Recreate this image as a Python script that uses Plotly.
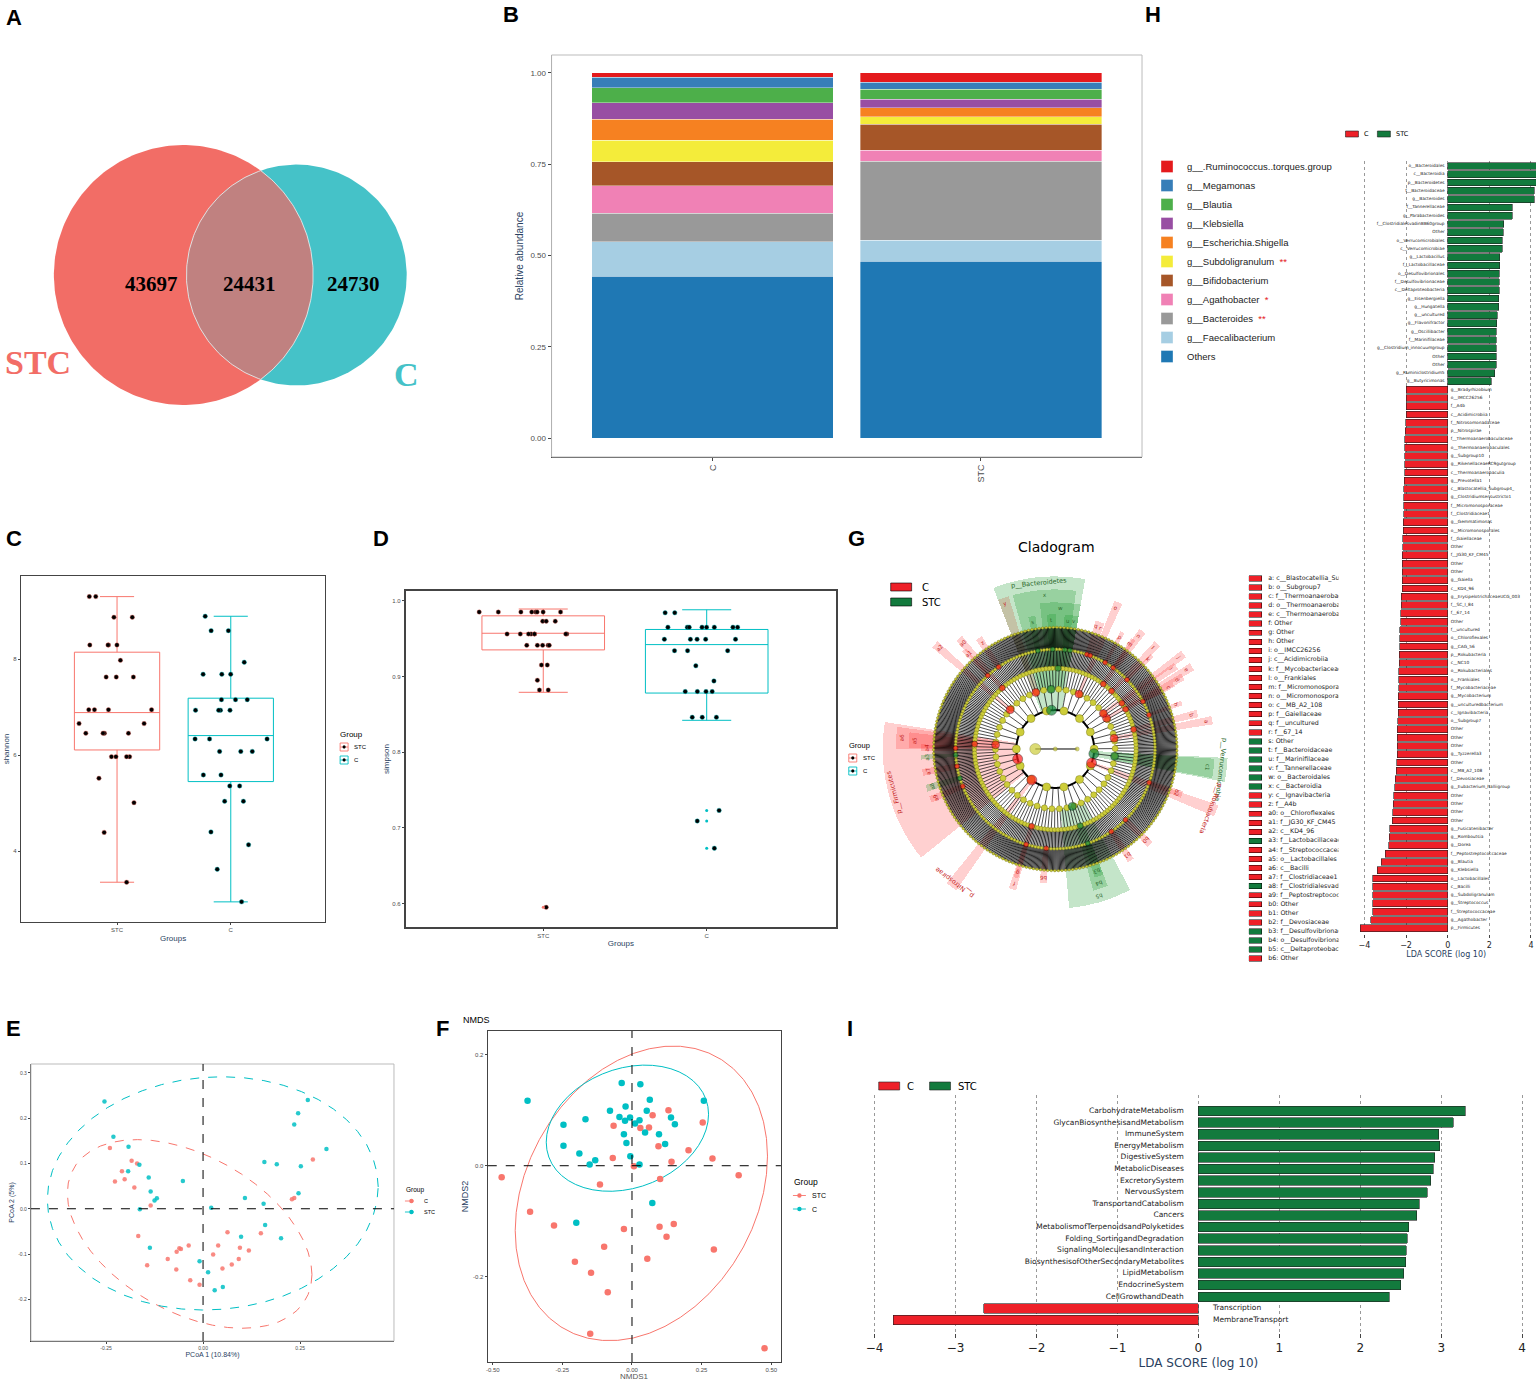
import numpy as np
import plotly.graph_objects as go

W, H = 1536, 1381

def dom_x(a, b):
    return [a / W, b / W]

def dom_y(top, bottom):
    return [1 - bottom / H, 1 - top / H]

def px(x):
    return x / W

def py(y):
    return 1 - y / H

SANS = "Liberation Sans, Arial, sans-serif"
SERIF = "Liberation Serif, Times New Roman, serif"
MPL = "DejaVu Sans, sans-serif"
GG_RED = "#F8766D"
GG_CYAN = "#00BFC4"
LDA_RED = "#EE2028"
LDA_GREEN = "#127A3D"

# ---------------- A: Venn ----------------
venn_names = ["STC", "C"]
venn_only_stc = 43697
venn_shared = 24431
venn_only_c = 24730

# ---------------- B: composition ----------------
taxa = ["g__.Ruminococcus..torques.group", "g__Megamonas", "g__Blautia", "g__Klebsiella",
        "g__Escherichia.Shigella", "g__Subdoligranulum", "g__Bifidobacterium",
        "g__Agathobacter", "g__Bacteroides", "g__Faecalibacterium", "Others"]
taxa_stars = ["", "", "", "", "", "**", "", "*", "**", "", ""]
taxa_colors = ["#E41A1C", "#377EB8", "#4DAF4A", "#984EA3", "#F68121", "#F4EC3A",
               "#A65628", "#F081B5", "#999999", "#A6CEE3", "#1F78B4"]
abund_groups = ["C", "STC"]
abund_c = [0.012, 0.029, 0.041, 0.045, 0.058, 0.058, 0.066, 0.075, 0.079, 0.094, 0.443]
abund_stc = [0.026, 0.019, 0.027, 0.024, 0.024, 0.020, 0.072, 0.030, 0.217, 0.057, 0.484]

# ---------------- C: shannon ----------------
alpha_groups = ["STC", "C"]
shannon_stc = [9.31, 9.31, 8.88, 8.88, 8.30, 8.30, 8.30, 8.30, 7.98, 7.63, 7.63, 7.63, 6.95, 6.95,
               6.95, 6.95, 6.66, 6.66, 6.46, 6.46, 6.46, 6.46, 5.97, 5.97, 5.97, 5.97, 5.52, 5.01,
               4.39, 3.35]
shannon_c = [8.90, 8.60, 8.60, 7.94, 7.69, 7.69, 7.69, 7.16, 7.16, 7.16, 6.94, 6.94, 6.94, 6.94,
             6.34, 6.34, 6.34, 6.08, 6.08, 6.08, 5.59, 5.59, 5.36, 5.36, 5.04, 5.04, 4.40, 4.13,
             3.62, 2.94]
shannon_box_stc = [3.35, 6.11, 6.89, 8.15, 9.31]   # lower, q1, median, q3, upper
shannon_box_c = [2.94, 5.45, 6.41, 7.19, 8.90]

# ---------------- D: simpson ----------------
simpson_stc = [0.985, 0.985, 0.985, 0.985, 0.985, 0.985, 0.985, 0.985, 0.973, 0.973, 0.973,
               0.956, 0.956, 0.956, 0.956, 0.956, 0.956, 0.956, 0.956, 0.941, 0.941, 0.941,
               0.941, 0.941, 0.915, 0.915, 0.895, 0.882, 0.882, 0.595]
simpson_c = [0.984, 0.984, 0.965, 0.965, 0.965, 0.965, 0.965, 0.965, 0.965, 0.965, 0.949, 0.949,
             0.949, 0.949, 0.949, 0.934, 0.934, 0.934, 0.914, 0.894, 0.880, 0.880, 0.880, 0.880,
             0.846, 0.846, 0.846, 0.723, 0.709, 0.673]
simpson_box_stc = [0.879, 0.935, 0.957, 0.980, 0.989]
simpson_box_c = [0.842, 0.878, 0.942, 0.962, 0.988]

# ---------------- E: PCoA ----------------
pcoa_c_x = [-0.240, -0.227, -0.209, -0.202, -0.184, -0.170, -0.177, -0.135, -0.167, -0.144,
            -0.091, -0.069, -0.068, -0.061, -0.057, -0.037, -0.033, -0.009, 0.026, 0.039,
            0.050, 0.063, 0.074, 0.092, 0.095, 0.118, 0.149, 0.229, 0.235, 0.283]
pcoa_c_y = [0.134, 0.060, 0.083, 0.065, 0.106, 0.100, 0.047, 0.007, -0.060, -0.125,
            -0.111, -0.134, -0.095, -0.087, -0.089, -0.081, -0.158, -0.168, -0.101, -0.081,
            -0.132, -0.052, -0.123, -0.111, -0.086, -0.092, -0.054, 0.021, 0.024, 0.109]
pcoa_stc_x = [-0.254, -0.231, -0.192, -0.193, -0.164, -0.140, -0.135, -0.119, -0.125, -0.163,
              -0.052, 0.021, -0.137, -0.009, 0.013, 0.030, 0.051, 0.098, 0.108, 0.156,
              0.158, 0.190, 0.160, 0.201, 0.252, 0.246, 0.235, 0.245, 0.270, 0.318]
pcoa_stc_y = [0.237, 0.159, 0.137, 0.083, 0.097, 0.069, 0.038, 0.023, 0.018, -0.001,
              0.061, 0.002, -0.086, -0.116, -0.140, -0.180, -0.173, -0.062, 0.024, 0.011,
              0.103, 0.098, -0.036, -0.065, 0.094, 0.034, 0.186, 0.211, 0.240, 0.132]

# ---------------- F: NMDS ----------------
nmds_stc_x = [-0.468, -0.366, -0.280, -0.205, -0.147, -0.150, -0.100, -0.087, -0.029, -0.115,
              -0.069, -0.066, 0.007, 0.030, 0.061, 0.074, 0.095, 0.131, 0.101, 0.142,
              0.099, 0.150, 0.124, 0.055, 0.203, 0.254, 0.289, 0.294, 0.383, 0.476]
nmds_stc_y = [-0.021, -0.083, -0.108, -0.173, -0.193, -0.303, -0.146, -0.228, -0.114, -0.034,
              0.014, 0.072, -0.001, 0.068, 0.069, 0.091, 0.035, 0.100, -0.024, 0.007,
              -0.110, -0.105, -0.128, -0.168, 0.028, 0.078, 0.013, -0.151, -0.017, -0.329]
nmds_c_x = [-0.375, -0.246, -0.246, -0.189, -0.167, -0.152, -0.132, -0.200, -0.079, -0.045,
            -0.037, -0.023, -0.025, -0.029, -0.020, -0.007, -0.006, 0.011, 0.027, 0.027,
            0.030, 0.047, 0.053, 0.064, 0.097, 0.119, 0.140, 0.154, 0.258, 0.073]
nmds_c_y = [0.117, 0.074, 0.036, 0.022, 0.084, 0.002, 0.010, -0.103, 0.099, 0.088,
            0.149, 0.107, 0.081, 0.057, 0.041, 0.087, 0.017, 0.076, 0.082, 0.002,
            0.147, 0.060, 0.099, 0.119, 0.057, 0.039, 0.087, 0.075, 0.117, -0.067]

# ---------------- H: LEfSe taxa ----------------
taxa_lda_names = [
    "o__Bacteroidales", "c__Bacteroidia", "p__Bacteroidetes", "f__Bacteroidaceae", "g__Bacteroides",
    "f__Tannerellaceae", "g__Parabacteroides", "f__ClostridialesvadinBB60group", "Other",
    "o__Verrucomicrobiales", "c__Verrucomicrobiae", "g__Lactobacillus", "f__Lactobacillaceae",
    "o__Desulfovibrionales", "f__Desulfovibrionaceae", "c__Deltaproteobacteria", "g__Eisenbergiella",
    "g__Hungatella", "g__uncultured", "g__Flavonifractor", "g__Oscillibacter", "f__Marinifilaceae",
    "g__Clostridium_innocuumgroup", "Other", "Other", "g__Ruminiclostridium5", "g__Butyricimonas",
    "g__Bradyrhizobium", "o__IMCC26256", "f__A4b", "c__Acidimicrobiia", "f__Nitrosomonadaceae",
    "p__Nitrospirae", "f__Thermoanaerobaculaceae", "o__Thermoanaerobaculales", "g__Subgroup10",
    "g__RikenellaceaeRC9gutgroup", "c__Thermoanaerobaculia", "g__Prevotella1",
    "c__Blastocatellia_Subgroup4_", "g__Clostridiumsensustricto1", "f__Micromonosporaceae",
    "f__Clostridiaceae1", "g__Gemmatimonas", "o__Micromonosporales", "f__Gaiellaceae", "Other",
    "f__JG30_KF_CM45", "Other", "Other", "g__Gaiella", "c__KD4_96", "g__ErysipelotrichaceaeUCG_003",
    "f__SC_I_84", "f__67_14", "Other", "f__uncultured", "o__Chloroflexales", "g__CAG_56",
    "p__Rokubacteria", "c__NC10", "o__Rokubacteriales", "o__Frankiales", "f__Mycobacteriaceae",
    "g__Mycobacterium", "g__unculturedbacterium", "c__Ignavibacteria", "o__Subgroup7", "Other",
    "Other", "Other", "g__Tyzzerella3", "Other", "c__MB_A2_108", "f__Devosiaceae",
    "g__Eubacterium_halliigroup", "Other", "Other", "Other", "Other", "g__Fusicatenibacter",
    "g__Romboutsia", "g__Dorea", "f__Peptostreptococcaceae", "g__Blautia", "g__Klebsiella",
    "o__Lactobacillales", "c__Bacilli", "g__Subdoligranulum", "g__Streptococcus",
    "f__Streptococcaceae", "g__Agathobacter", "p__Firmicutes"]
taxa_lda_scores = [
    4.40, 4.40, 4.40, 4.15, 4.15, 3.09, 3.09, 2.70, 2.66, 2.62, 2.62, 2.51, 2.51, 2.48, 2.48, 2.48,
    2.46, 2.46, 2.38, 2.35, 2.34, 2.34, 2.33, 2.33, 2.33, 2.26, 2.10,
    -1.98, -1.99, -2.00, -2.00, -2.02, -2.03, -2.06, -2.06, -2.06, -2.07, -2.07, -2.08, -2.10,
    -2.11, -2.11, -2.12, -2.13, -2.13, -2.16, -2.16, -2.17, -2.17, -2.17, -2.19, -2.19, -2.24,
    -2.24, -2.25, -2.26, -2.29, -2.30, -2.30, -2.32, -2.32, -2.34, -2.36, -2.36, -2.37, -2.38,
    -2.38, -2.40, -2.41, -2.41, -2.41, -2.42, -2.44, -2.47, -2.52, -2.53, -2.60, -2.61, -2.63,
    -2.66, -2.77, -2.80, -2.84, -3.00, -3.19, -3.39, -3.60, -3.61, -3.61, -3.61, -3.61, -3.69,
    -4.19]

# ---------------- I: LEfSe pathways ----------------
path_names = ["CarbohydrateMetabolism", "GlycanBiosynthesisandMetabolism", "ImmuneSystem",
              "EnergyMetabolism", "DigestiveSystem", "MetabolicDiseases", "ExcretorySystem",
              "NervousSystem", "TransportandCatabolism", "Cancers",
              "MetabolismofTerpenoidsandPolyketides", "Folding_SortingandDegradation",
              "SignalingMoleculesandInteraction", "BiosynthesisofOtherSecondaryMetabolites",
              "LipidMetabolism", "EndocrineSystem", "CellGrowthandDeath", "Transcription",
              "MembraneTransport"]
path_lda = [3.30, 3.15, 2.97, 2.98, 2.92, 2.90, 2.87, 2.83, 2.73, 2.70, 2.60, 2.58, 2.57, 2.56,
            2.54, 2.50, 2.36, -2.65, -3.77]
lda_groups = ["C", "STC"]

# ---------------- G: cladogram ----------------
clade_labels = ["p__Bacteroidetes", "p__Firmicutes", "p__Verrucomicrobia", "p__Rokubacteria",
                "p__Nitrospirae",
                "x", "y", "a6", "b5", "c1", "a", "e", "j", "o", "a2",
                "w", "a5", "b4", "b", "d", "i", "l", "n", "a0", "f",
                "t", "u", "v", "s", "a3", "a4", "a7", "a8", "a9", "b3", "c", "k", "m", "p", "q",
                "r", "z", "a1", "b2", "g", "h", "b0", "b1", "b6"]
clade_groups = ["STC", "C", "STC", "C", "C",
                "STC", "C", "C", "STC", "STC", "C", "C", "C", "C", "C",
                "STC", "C", "STC", "C", "C", "C", "C", "C", "C", "C",
                "STC", "STC", "STC", "STC", "STC", "C", "C", "STC", "C", "STC", "C", "C", "C",
                "C", "C", "C", "C", "C", "C", "C", "C", "C", "C", "C"]
clade_levels = [1, 1, 1, 1, 1,
                2, 2, 2, 2, 2, 2, 2, 2, 2, 2,
                3, 3, 3, 3, 3, 3, 3, 3, 3, 3,
                4, 4, 4, 4, 4, 4, 4, 4, 4, 4, 4, 4, 4, 4, 4, 4, 4, 4, 4, 4, 4, 4, 4, 4]
clade_theta = [95.5, 195, -7, -21, -127,
               94, 109, 176, -73.5, -7, 10.4, 31, 36.5, 66.7, 139,
               88, 176.5, -72, 14, 29.5, 34.5, 45.8, 53.5, 131, -107,
               91.5, 84.5, 81.5, 100, 183.5, 179.5, 190, 197, 202, -71, 28.5, 44, 54.5, 60,
               71.5, 69.5, 124.6, 132.6, -19.7, -107, 20, -45.2, -55.8, -95.2]
clade_width = [31, 48, 8, 4, 4,
               23, 4, 8, 23, 7, 3, 3, 3, 3, 3,
               16, 6, 6, 3, 3, 3, 3, 3, 3, 3,
               4, 3, 3, 3, 2, 3, 3, 3, 3, 4, 2, 2, 2, 2, 2, 2, 3, 2, 3, 2, 2, 3, 3, 3]
clade_key = ["a: c__Blastocatellia_Subgroup4", "b: o__Subgroup7", "c: f__Thermoanaerobaculaceae",
             "d: o__Thermoanaerobaculales", "e: c__Thermoanaerobaculia", "f: Other", "g: Other",
             "h: Other", "i: o__IMCC26256", "j: c__Acidimicrobiia", "k: f__Mycobacteriaceae",
             "l: o__Frankiales", "m: f__Micromonosporaceae", "n: o__Micromonosporales",
             "o: c__MB_A2_108", "p: f__Gaiellaceae", "q: f__uncultured", "r: f__67_14",
             "s: Other", "t: f__Bacteroidaceae", "u: f__Marinifilaceae", "v: f__Tannerellaceae",
             "w: o__Bacteroidales", "x: c__Bacteroidia", "y: c__Ignavibacteria", "z: f__A4b",
             "a0: o__Chloroflexales", "a1: f__JG30_KF_CM45", "a2: c__KD4_96",
             "a3: f__Lactobacillaceae", "a4: f__Streptococcaceae", "a5: o__Lactobacillales",
             "a6: c__Bacilli", "a7: f__Clostridiaceae1", "a8: f__ClostridialesvadinBB60group",
             "a9: f__Peptostreptococcaceae", "b0: Other", "b1: Other", "b2: f__Devosiaceae",
             "b3: f__Desulfovibrionaceae", "b4: o__Desulfovibrionales",
             "b5: c__Deltaproteobacteria", "b6: Other"]
clade_key_groups = ["C"] * 18 + ["STC"] * 6 + ["C"] * 5 + ["STC", "C", "C", "C", "C", "STC",
                    "C", "C", "C", "C", "STC", "STC", "STC", "C"]

fig = go.Figure()
annotations = []
shapes = []


def ann(x, y, text, size, family=SANS, color="black", xanchor="center", yanchor="middle",
        angle=0, xref="paper", yref="paper"):
    annotations.append(dict(x=x, y=y, xref=xref, yref=yref, text=text, showarrow=False,
                            font=dict(size=size, family=family, color=color),
                            xanchor=xanchor, yanchor=yanchor, textangle=angle))


def pshape(kind, x0, y0, x1, y1, **kw):
    shapes.append(dict(type=kind, xref="paper", yref="paper", x0=px(x0), x1=px(x1),
                       y0=py(y0), y1=py(y1), **kw))


def key_legend(x, y_title, dy, items, kind, title_size, text_size):
    """ggplot-like legend: title + keys (kind 'box', 'point' or 'dpoint')."""
    ann(px(x), py(y_title), "Group", title_size, xanchor="left")
    for i, (lab, col) in enumerate(items):
        yy = y_title + dy * (i + 1)
        if kind == "box":
            pshape("rect", x + 2, yy + 4, x + 10, yy - 4, line=dict(color=col, width=0.9))
            pshape("line", x + 2, yy, x + 10, yy, line=dict(color=col, width=0.9))
            pshape("circle", x + 4.6, yy + 1.4, x + 7.4, yy - 1.4, fillcolor="black",
                   line=dict(color="black", width=0.3))
            tx = x + 14
        else:
            pshape("line", x + 1, yy, x + 14, yy, line=dict(color=col, width=0.9, dash="dash"
                                                           if kind == "dpoint" else "solid"))
            pshape("circle", x + 5.3, yy + 2.2, x + 9.7, yy - 2.2, fillcolor=col,
                   line=dict(color=col, width=0))
            tx = x + 18
        ann(px(tx), py(yy), lab, text_size, xanchor="left")


def lda_legend(x, y, box_w, box_h, gap, text_size, text_w):
    """matplotlib-like horizontal legend for the LEfSe bar charts."""
    xx = x
    for lab, col in zip(lda_groups, [LDA_RED, LDA_GREEN]):
        pshape("rect", xx, y + box_h / 2, xx + box_w, y - box_h / 2, fillcolor=col,
               line=dict(color="#222", width=0.6))
        ann(px(xx + box_w + gap), py(y), lab, text_size, family=MPL, xanchor="left")
        xx += box_w + gap + text_w


# ================= A: Venn =================
n_stc_total = venn_only_stc + venn_shared
n_c_total = venn_only_c + venn_shared
VENN_SCALE = 0.498  # px per sqrt(count)
r1 = VENN_SCALE * np.sqrt(n_stc_total)
r2 = VENN_SCALE * np.sqrt(n_c_total)


def lens_area(d, a, b):
    d1 = (d * d + a * a - b * b) / (2 * d)
    d2 = d - d1
    return (a * a * np.arccos(d1 / a) - d1 * np.sqrt(a * a - d1 * d1)
            + b * b * np.arccos(d2 / b) - d2 * np.sqrt(b * b - d2 * d2))


target = np.pi * VENN_SCALE ** 2 * venn_shared
lo, hi = abs(r1 - r2) + 1e-6, r1 + r2 - 1e-6
for _ in range(80):
    mid = (lo + hi) / 2
    if lens_area(mid, r1, r2) > target:
        lo = mid
    else:
        hi = mid
dist = (lo + hi) / 2
c1x, cy = 50 + r1, 275
c2x = c1x + dist
tt = np.linspace(0, 2 * np.pi, 240)
d1 = (dist ** 2 + r1 ** 2 - r2 ** 2) / (2 * dist)
al1 = np.arccos(d1 / r1)
al2 = np.arccos((dist - d1) / r2)
ta = np.linspace(-al1, al1, 120)
tb = np.linspace(np.pi - al2, np.pi + al2, 120)
lens_x = np.concatenate([c1x + r1 * np.cos(ta), c2x + r2 * np.cos(tb)])
lens_y = np.concatenate([cy + r1 * np.sin(ta), cy + r2 * np.sin(tb)])
for cx_, r_, col in [(c1x, r1, "#F26D66"), (c2x, r2, "#45C2C8")]:
    fig.add_trace(go.Scatter(x=cx_ + r_ * np.cos(tt), y=cy + r_ * np.sin(tt), mode="lines",
                             fill="toself", fillcolor=col, line=dict(width=0), showlegend=False,
                             hoverinfo="skip", xaxis="x", yaxis="y"))
fig.add_trace(go.Scatter(x=lens_x, y=lens_y, mode="lines", fill="toself", fillcolor="#C08180",
                         line=dict(width=1, color="rgba(255,255,255,0.7)"), showlegend=False,
                         hoverinfo="skip", xaxis="x", yaxis="y"))
venn_text_x = [c1x - 0.25 * r1, (c2x - r2 + c1x + r1) / 2, c2x + 0.52 * r2]
for xx, val in zip(venn_text_x, [venn_only_stc, venn_shared, venn_only_c]):
    ann(xx, cy + 9, f"<b>{val}</b>", 21, family=SERIF, xref="x", yref="y")
ann(c1x - 1.12 * r1, cy + 0.67 * r1, f"<b>{venn_names[0]}</b>", 34, family=SERIF,
    color="#F26D66", xref="x", yref="y")
ann(c2x + 1.0 * r2, cy + 0.9 * r2, f"<b>{venn_names[1]}</b>", 34, family=SERIF,
    color="#45C2C8", xref="x", yref="y")

# ================= B: stacked bars =================
for i in reversed(range(len(taxa))):
    name = taxa[i]
    if taxa_stars[i]:
        name += f"  <span style='color:#E41A1C'>{taxa_stars[i]}</span>"
    fig.add_trace(go.Bar(x=abund_groups, y=[abund_c[i], abund_stc[i]], name=name, width=0.9,
                         marker=dict(color=taxa_colors[i],
                                     line=dict(color="rgba(255,255,255,0.6)", width=0.6)),
                         xaxis="x2", yaxis="y2", legend="legend"))
shapes.append(dict(type="rect", xref="x2 domain", yref="y2 domain", x0=0, x1=1, y0=0, y1=1,
                   line=dict(color="#BBBBBB", width=1)))


# ================= C & D: boxes =================
def add_alpha(vals_list, boxes, xa, ya, pts_width, outliers):
    for grp, vals, bx, col in zip(alpha_groups, vals_list, boxes, [GG_RED, GG_CYAN]):
        fig.add_trace(go.Box(x=[grp], lowerfence=[bx[0]], q1=[bx[1]], median=[bx[2]],
                             q3=[bx[3]], upperfence=[bx[4]], width=0.75, whiskerwidth=0.4,
                             boxpoints=False, line=dict(color=col, width=1),
                             fillcolor="rgba(0,0,0,0)", name=grp, showlegend=False,
                             xaxis=xa, yaxis=ya))
        if outliers:
            out = [v for v in vals if v < bx[0] or v > bx[4]]
            if out:
                fig.add_trace(go.Scatter(x=[grp] * len(out), y=out, mode="markers",
                                         marker=dict(color=col, size=3), showlegend=False,
                                         xaxis=xa, yaxis=ya))
        fig.add_trace(go.Box(x=[grp] * len(vals), y=vals, boxpoints="all", jitter=1,
                             pointpos=0, width=pts_width, line=dict(width=0),
                             fillcolor="rgba(0,0,0,0)", name=grp, showlegend=False,
                             marker=dict(color="black", size=4.5, line=dict(color=col, width=0.4)),
                             xaxis=xa, yaxis=ya))


add_alpha([shannon_stc, shannon_c], [shannon_box_stc, shannon_box_c], "x3", "y3", 0.75, False)
add_alpha([simpson_stc, simpson_c], [simpson_box_stc, simpson_box_c], "x4", "y4", 0.84, True)
key_legend(335, 734, 13, list(zip(alpha_groups, [GG_RED, GG_CYAN])), "box", 8, 6)
key_legend(845, 745, 13, list(zip(alpha_groups, [GG_RED, GG_CYAN])), "box", 7.5, 6)


# ================= E & F: ordination =================
def stat_ellipse(xs, ys, fq=3.3277, nu=5, segs=51):
    X = np.column_stack([xs, ys]).astype(float)
    n, p = X.shape
    loc = X.mean(axis=0)
    w = np.ones(n)
    Xc = X - loc
    for _ in range(25):
        w0 = w
        Xc = X - loc
        S = (Xc * (w / w.sum())[:, None]).T @ Xc
        Q = np.einsum("ij,jk,ik->i", Xc, np.linalg.inv(S), Xc)
        w = (nu + p) / (nu + Q)
        loc = (w[:, None] * X).sum(0) / w.sum()
        if np.all(np.abs(w - w0) < 0.01):
            break
    cov = (Xc * w[:, None]).T @ Xc / n
    L = np.linalg.cholesky(cov)
    t = np.linspace(0, 2 * np.pi, segs)
    circ = np.column_stack([np.cos(t), np.sin(t)])
    pts = loc + np.sqrt(p * fq) * circ @ L.T
    return pts[:, 0], pts[:, 1]


pcoa_sets = [("C", pcoa_c_x, pcoa_c_y, GG_RED), ("STC", pcoa_stc_x, pcoa_stc_y, GG_CYAN)]
for name, xs, ys, col in pcoa_sets:
    ex, ey = stat_ellipse(xs, ys)
    fig.add_trace(go.Scatter(x=ex, y=ey, mode="lines", line=dict(color=col, width=1, dash="dash"),
                             showlegend=False, hoverinfo="skip", xaxis="x5", yaxis="y5"))
for name, xs, ys, col in pcoa_sets:
    fig.add_trace(go.Scatter(x=xs, y=ys, mode="markers", name=name, showlegend=False,
                             marker=dict(color=col, size=4.5, opacity=0.85),
                             xaxis="x5", yaxis="y5"))
shapes.append(dict(type="rect", xref="x5 domain", yref="y5 domain", x0=0, x1=1, y0=0, y1=1,
                   line=dict(color="#BBBBBB", width=1)))
key_legend(401, 1190, 11, [(s[0], s[3]) for s in pcoa_sets], "dpoint", 6.5, 5.5)

nmds_sets = [("STC", nmds_stc_x, nmds_stc_y, GG_RED), ("C", nmds_c_x, nmds_c_y, GG_CYAN)]
for name, xs, ys, col in nmds_sets:
    ex, ey = stat_ellipse(xs, ys)
    fig.add_trace(go.Scatter(x=ex, y=ey, mode="lines", line=dict(color=col, width=1),
                             showlegend=False, hoverinfo="skip", xaxis="x6", yaxis="y6"))
for name, xs, ys, col in nmds_sets:
    fig.add_trace(go.Scatter(x=xs, y=ys, mode="markers", name=name, showlegend=False,
                             marker=dict(color=col, size=6.5), xaxis="x6", yaxis="y6"))
key_legend(790, 1182, 13.5, [(s[0], s[3]) for s in nmds_sets], "point", 8.5, 7)
ann(px(632), py(1376), "NMDS1", 8, color="#555")

for xa, ya in [("x5", "y5"), ("x6", "y6")]:
    shapes.append(dict(type="line", xref=xa, yref=f"{ya} domain", x0=0, x1=0, y0=0, y1=1,
                       line=dict(color="black", width=1, dash="dash")))
    shapes.append(dict(type="line", xref=f"{xa} domain", yref=ya, x0=0, x1=1, y0=0, y1=0,
                       line=dict(color="black", width=1, dash="dash")))


# ================= H & I: LDA bars =================
def add_lda(names, scores, xa, ya, width, font_size, off):
    idx = list(range(len(names)))
    neg = [i for i in idx if scores[i] < 0]
    pos = [i for i in idx if scores[i] >= 0]
    for grp, sel, col in [("C", neg, LDA_RED), ("STC", pos, LDA_GREEN)]:
        fig.add_trace(go.Bar(x=[scores[i] for i in sel], y=sel, orientation="h", name=grp,
                             width=width, marker=dict(color=col, line=dict(color="#222", width=0.6)),
                             showlegend=False, xaxis=xa, yaxis=ya))
    fig.add_trace(go.Scatter(x=[-off] * len(pos), y=pos, text=[names[i] for i in pos],
                             mode="text", textposition="middle left", cliponaxis=False,
                             textfont=dict(size=font_size, family=MPL, color="#222"),
                             showlegend=False, xaxis=xa, yaxis=ya))
    fig.add_trace(go.Scatter(x=[off] * len(neg), y=neg, text=[names[i] for i in neg],
                             mode="text", textposition="middle right", cliponaxis=False,
                             textfont=dict(size=font_size, family=MPL, color="#222"),
                             showlegend=False, xaxis=xa, yaxis=ya))


add_lda(taxa_lda_names, taxa_lda_scores, "x7", "y7", 0.82, 4.3, 0.15)
add_lda(path_names, path_lda, "x8", "y8", 0.82, 7.5, 0.18)
lda_legend(1345, 134, 13, 6, 4, 6.5, 15)
lda_legend(877, 1086, 21, 8, 5, 10, 25)

# ================= G: cladogram =================
CX, CY, RMAX = 1054, 749, 180
RING = [39, 60, 81, 100, 122]
ring_nodes = [14, 50, 150, 400, 640]
OUTER = [173, 160, 147, 135]

for grp, col in [("C", "rgba(255,40,40,0.22)"), ("STC", "rgba(20,150,40,0.25)")]:
    sel = [i for i in range(len(clade_labels)) if clade_groups[i] == grp]
    fig.add_trace(go.Barpolar(theta=[clade_theta[i] for i in sel],
                              width=[clade_width[i] for i in sel],
                              base=[RING[clade_levels[i] - 1] for i in sel],
                              r=[OUTER[clade_levels[i] - 1] - RING[clade_levels[i] - 1] for i in sel],
                              marker=dict(color=col, line=dict(width=0)), showlegend=False,
                              hoverinfo="skip", subplot="polar"))

band_widths = [0, 0.7, 0.7, 0.85, 0.85]
for k in range(1, 5):
    seg_r, seg_t = [], []
    angs = np.arange(ring_nodes[k]) * 360.0 / ring_nodes[k] + 0.37 * k
    for a in angs:
        seg_r += [RING[k - 1], RING[k], None]
        seg_t += [a, a, None]
    fig.add_trace(go.Scatterpolar(r=seg_r, theta=seg_t, mode="lines",
                                  line=dict(color="black", width=band_widths[k]), showlegend=False,
                                  hoverinfo="skip", subplot="polar"))
fig.add_trace(go.Scatterpolar(r=[0, 20, None, 0, 22], theta=[180, 180, None, 0, 0], mode="lines",
                              line=dict(color="black", width=1), showlegend=False,
                              hoverinfo="skip", subplot="polar"))
circ_t = np.linspace(0, 360, 361)
for k, rr in enumerate(RING):
    fig.add_trace(go.Scatterpolar(r=[rr] * len(circ_t), theta=circ_t, mode="lines",
                                  line=dict(color="black" if k == 0 else "#9A9A22",
                                            width=2 if k == 0 else 1),
                                  showlegend=False, hoverinfo="skip", subplot="polar"))
node_sizes = [8, 6, 4.5, 3, 2.4]
node_step = [1, 1, 1, 2, 3]
for k, rr in enumerate(RING):
    angs = (np.arange(ring_nodes[k]) * 360.0 / ring_nodes[k] + 0.37 * k)[::node_step[k]]
    fig.add_trace(go.Scatterpolar(r=[rr] * len(angs), theta=angs, mode="markers",
                                  marker=dict(color="#CDCD3A", size=node_sizes[k],
                                              line=dict(color="#6E6E14", width=0.4)),
                                  showlegend=False, hoverinfo="skip", subplot="polar"))
fig.add_trace(go.Scatterpolar(r=[0, 20, 22], theta=[0, 180, 0], mode="markers",
                              marker=dict(color="#CDCD3A", size=[4, 11, 4],
                                          line=dict(color="#6E6E14", width=0.5)),
                              showlegend=False, hoverinfo="skip", subplot="polar"))
clade_node_sizes = [10, 8, 6, 5]
fig.add_trace(go.Scatterpolar(r=[RING[l - 1] for l in clade_levels], theta=clade_theta,
                              mode="markers",
                              marker=dict(color=["#FF1A1A" if g == "C" else "#12873A" for g in clade_groups],
                                          size=[clade_node_sizes[l - 1] for l in clade_levels],
                                          line=dict(color="black", width=0.5)),
                              showlegend=False, hoverinfo="skip", subplot="polar"))

for lab, grp, lev, th in zip(clade_labels, clade_groups, clade_levels, clade_theta):
    rr = OUTER[lev - 1] - 6
    t = np.deg2rad(th)
    ang = 90 - th
    while ang > 180:
        ang -= 360
    while ang <= -180:
        ang += 360
    col = "#C42020" if grp == "C" else "#2D6A2D"
    ann(px(CX + rr * np.cos(t)), py(CY - rr * np.sin(t)), lab, 6.5 if lev == 1 else 5.5,
        family=MPL, color=col, angle=ang)
ann(px(1055), py(547), "Cladogram", 14, family=MPL)
for yy, col, lab in [(587, LDA_RED, "C"), (602, LDA_GREEN, "STC")]:
    pshape("rect", 889, yy + 4, 910, yy - 4, fillcolor=col, line=dict(color="black", width=0.6))
    ann(px(918), py(yy), lab, 10, family=MPL, xanchor="left")

# cladogram key
key_idx = list(range(len(clade_key)))
fig.add_trace(go.Bar(x=[1] * len(clade_key), y=key_idx, orientation="h", width=0.6,
                     marker=dict(color=[LDA_RED if g == "C" else LDA_GREEN for g in clade_key_groups],
                                 line=dict(color="black", width=0.5)),
                     showlegend=False, hoverinfo="skip", xaxis="x9", yaxis="y9"))
fig.add_trace(go.Scatter(x=[1.5] * len(clade_key), y=key_idx, text=clade_key, mode="text",
                         textposition="middle right",
                         textfont=dict(size=6.3, family=MPL, color="#222"),
                         showlegend=False, hoverinfo="skip", xaxis="x9", yaxis="y9"))

# ================= panel letters =================
for lab, x, y in [("A", 10, 17), ("B", 508, 15), ("H", 1152, 15), ("C", 10, 538), ("D", 378, 538),
                  ("G", 855, 538), ("E", 10, 1028), ("F", 440, 1028), ("I", 848, 1028)]:
    ann(px(x), py(y), f"<b>{lab}</b>", 22)
ann(px(458), py(1020), "NMDS", 9, xanchor="left")

# ================= layout =================
tick_small = dict(size=6, family=SANS, color="#4D4D4D")
layout = dict(
    width=W, height=H, margin=dict(l=0, r=0, t=0, b=0), paper_bgcolor="white",
    plot_bgcolor="rgba(0,0,0,0)", barmode="stack", boxmode="overlay",
    annotations=annotations, shapes=shapes,
    xaxis=dict(domain=dom_x(0, 430), range=[0, 430], visible=False, anchor="y"),
    yaxis=dict(domain=dom_y(100, 450), range=[450, 100], visible=False, anchor="x"),
    xaxis2=dict(domain=dom_x(549, 1141), range=[-0.6, 1.6], anchor="y2", tickangle=-90,
                showline=True, linecolor="#333", linewidth=1, ticks="outside", ticklen=3,
                tickfont=dict(size=9, family=SANS, color="#4D4D4D")),
    yaxis2=dict(domain=dom_y(55, 457), range=[-0.052, 1.049], anchor="x2", showgrid=False,
                zeroline=False, showline=True, linecolor="#333", linewidth=1, ticks="outside",
                ticklen=3, tickvals=[0, 0.25, 0.5, 0.75, 1.0],
                ticktext=["0.00", "0.25", "0.50", "0.75", "1.00"],
                tickfont=dict(size=8, family=SANS, color="#4D4D4D"),
                title=dict(text="Relative abundance", font=dict(size=10, family=SANS), standoff=4)),
    xaxis3=dict(domain=dom_x(17, 322), range=[-0.845, 1.83], anchor="y3", type="category",
                categoryorder="array", categoryarray=alpha_groups, showline=True, mirror=True,
                linecolor="#444", linewidth=1.4, ticks="outside", ticklen=2, tickfont=tick_small,
                showgrid=False, title=dict(text="Groups", font=dict(size=8, family=SANS), standoff=2)),
    yaxis3=dict(domain=dom_y(576, 922), range=[2.52, 9.74], anchor="x3", showline=True,
                mirror=True, linecolor="#444", linewidth=1.4, ticks="outside", ticklen=2,
                tickvals=[4, 6, 8], tickfont=tick_small, showgrid=False, zeroline=False,
                title=dict(text="shannon", font=dict(size=8, family=SANS), standoff=2)),
    xaxis4=dict(domain=dom_x(403, 834), range=[-0.84, 1.79], anchor="y4", type="category",
                categoryorder="array", categoryarray=alpha_groups, showline=True, mirror=True,
                linecolor="#444", linewidth=2.2, ticks="outside", ticklen=2, tickfont=tick_small,
                showgrid=False, title=dict(text="Groups", font=dict(size=8, family=SANS), standoff=2)),
    yaxis4=dict(domain=dom_y(591, 927), range=[0.569, 1.0128], anchor="x4", showline=True,
                mirror=True, linecolor="#444", linewidth=2.2, ticks="outside", ticklen=2,
                tickvals=[0.6, 0.7, 0.8, 0.9, 1.0], ticktext=["0.6", "0.7", "0.8", "0.9", "1.0"],
                tickfont=tick_small, showgrid=False, zeroline=False,
                title=dict(text="simpson", font=dict(size=8, family=SANS), standoff=2)),
    xaxis5=dict(domain=dom_x(27, 391), range=[-0.4435, 0.492], anchor="y5", showline=True,
                linecolor="#333", linewidth=1.2, ticks="outside", ticklen=2,
                tickvals=[-0.25, 0, 0.25], ticktext=["-0.25", "0.00", "0.25"],
                tickfont=dict(size=5, family=SANS, color="#4D4D4D"), showgrid=False, zeroline=False,
                title=dict(text="PCoA 1 (10.84%)", font=dict(size=7, family=SANS), standoff=2)),
    yaxis5=dict(domain=dom_y(1064, 1341), range=[-0.292, 0.3196], anchor="x5", showline=True,
                linecolor="#333", linewidth=1.2, ticks="outside", ticklen=2,
                tickvals=[-0.2, -0.1, 0, 0.1, 0.2, 0.3],
                ticktext=["-0.2", "-0.1", "0.0", "0.1", "0.2", "0.3"],
                tickfont=dict(size=5, family=SANS, color="#4D4D4D"), showgrid=False, zeroline=False,
                title=dict(text="PCoA 2 (5%)", font=dict(size=7, family=SANS), standoff=2)),
    xaxis6=dict(domain=dom_x(485, 779), range=[-0.518, 0.535], anchor="y6", showline=True,
                mirror=True, linecolor="#444", linewidth=1.2, ticks="outside", ticklen=2,
                tickvals=[-0.5, -0.25, 0, 0.25, 0.5],
                ticktext=["-0.50", "-0.25", "0.00", "0.25", "0.50"],
                tickfont=dict(size=6, family=SANS, color="#4D4D4D"), showgrid=False,
                zeroline=False),
    yaxis6=dict(domain=dom_y(1031, 1362), range=[-0.354, 0.243], anchor="x6", showline=True,
                mirror=True, linecolor="#444", linewidth=1.2, ticks="outside", ticklen=2,
                tickvals=[-0.2, 0, 0.2], ticktext=["-0.2", "0.0", "0.2"],
                tickfont=dict(size=6, family=SANS, color="#4D4D4D"), showgrid=False, zeroline=False,
                title=dict(text="NMDS2", font=dict(size=9, family=SANS), standoff=2)),
    xaxis7=dict(domain=dom_x(1356, 1536), range=[-4.38, 4.24], anchor="y7",
                tickvals=[-4, -2, 0, 2, 4], ticktext=["\u22124", "\u22122", "0", "2", "4"],
                showgrid=True, gridcolor="#999", gridwidth=0.6, griddash="dot", zeroline=False,
                ticks="outside", ticklen=3, tickfont=dict(size=8, family=MPL, color="#222"),
                title=dict(text="LDA SCORE (log 10)", font=dict(size=8, family=MPL), standoff=2)),
    yaxis7=dict(domain=dom_y(161, 934), range=[92.7, -0.6], anchor="x7", visible=False),
    xaxis8=dict(domain=dom_x(868, 1527), range=[-4.06, 4.06], anchor="y8",
                tickvals=[-4, -3, -2, -1, 0, 1, 2, 3, 4],
                ticktext=["\u22124", "\u22123", "\u22122", "\u22121", "0", "1", "2", "3", "4"],
                showgrid=True, gridcolor="#999", gridwidth=0.6, griddash="dot", zeroline=False,
                ticks="outside", ticklen=4, tickfont=dict(size=12, family=MPL, color="#222"),
                title=dict(text="LDA SCORE (log 10)", font=dict(size=12, family=MPL), standoff=4)),
    yaxis8=dict(domain=dom_y(1095, 1333), range=[19.12, -1.38], anchor="x8", visible=False),
    xaxis9=dict(domain=dom_x(1248, 1338), range=[0, 6.9], anchor="y9", visible=False),
    yaxis9=dict(domain=dom_y(573, 964), range=[42.6, -0.6], anchor="x9", visible=False),
    polar=dict(domain=dict(x=dom_x(CX - RMAX, CX + RMAX), y=dom_y(CY - RMAX, CY + RMAX)),
               bgcolor="rgba(0,0,0,0)", barmode="overlay",
               radialaxis=dict(range=[0, RMAX], visible=False),
               angularaxis=dict(visible=False, rotation=0, direction="counterclockwise")),
    legend=dict(x=px(1146), y=py(152), xanchor="left", yanchor="top", traceorder="reversed",
                font=dict(size=9.5, family=SANS, color="#222"), bgcolor="rgba(0,0,0,0)"),
)
fig.update_layout(**layout)
fig.write_html("out.html", config={"displayModeBar": False},
               post_script="document.body.style.margin='0';document.body.style.padding='0';")
